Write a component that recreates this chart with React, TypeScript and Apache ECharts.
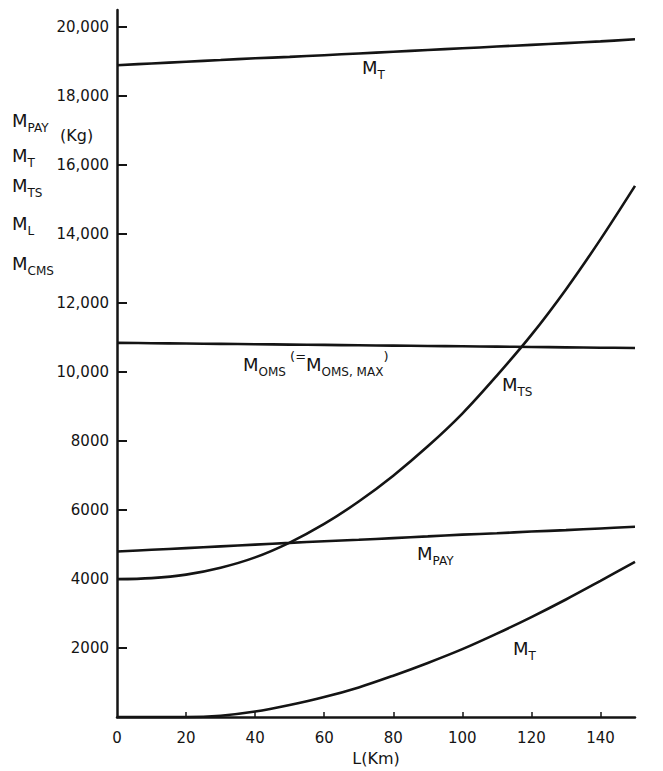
import React, { useEffect, useRef } from "react";
import * as echarts from "echarts";

// ---- data ----
const distanceKm = [0, 10, 20, 30, 40, 50, 60, 70, 80, 90, 100, 110, 120, 130, 140, 150];
const massTotalUpper = [18900, 18950, 19000, 19050, 19100, 19140, 19190, 19240, 19290, 19340, 19390, 19440, 19490, 19540, 19590, 19650];
const massOms = [10850, 10840, 10830, 10820, 10810, 10800, 10790, 10780, 10770, 10760, 10750, 10740, 10730, 10720, 10710, 10700];
const massTs = [4000, 4030, 4130, 4330, 4630, 5060, 5600, 6250, 7000, 7850, 8800, 9900, 11080, 12400, 13850, 15400];
const massPay = [4800, 4850, 4900, 4950, 5000, 5050, 5100, 5140, 5190, 5240, 5290, 5330, 5380, 5420, 5470, 5520];
const massTotalLower = [0, 0, 0, 40, 160, 350, 580, 860, 1200, 1570, 1970, 2420, 2900, 3410, 3950, 4500];

const xTickValues = [20, 40, 60, 80, 100, 120, 140];
const xLabelValues = [0, 20, 40, 60, 80, 100, 120, 140];
const yTickValues = [2000, 4000, 6000, 8000, 10000, 12000, 14000, 16000, 18000, 20000];

const FONT = "DejaVu Sans";
const INK = "#141414";

function pairs(values: number[]) {
  return distanceKm.map((d, i) => [d, values[i]]);
}

function fmtY(v: number) {
  if (!yTickValues.includes(v)) return "";
  return v >= 10000 ? v.toLocaleString("en-US") : String(v);
}

const rich = {
  m: { fontFamily: FONT, fontSize: 18, color: INK, lineHeight: 20, verticalAlign: "middle" },
  s: { fontFamily: FONT, fontSize: 12, color: INK, lineHeight: 28, verticalAlign: "bottom" },
  p: { fontFamily: FONT, fontSize: 13, color: INK, lineHeight: 24, verticalAlign: "top" },
};

function label(left: number, top: number, text: string) {
  return {
    type: "text",
    left,
    top,
    style: { text, rich, fill: INK, font: `18px ${FONT}` },
  };
}

function lineSeries(name: string, values: number[]) {
  return {
    name,
    type: "line",
    data: pairs(values),
    smooth: 0.35,
    showSymbol: false,
    symbol: "none",
    lineStyle: { color: INK, width: 2.6 },
    z: 3,
  };
}

export default function App() {
  const ref = useRef<HTMLDivElement>(null);

  useEffect(() => {
    document.body.style.margin = "0";
    const chart = echarts.init(ref.current!, null, { renderer: "svg" });
    chart.setOption({
      animation: false,
      backgroundColor: "#ffffff",
      grid: { left: 117, right: 28, top: 10, bottom: 52, containLabel: false },
      xAxis: {
        type: "value",
        min: 0,
        max: 150,
        interval: 20,
        name: "L(Km)",
        nameLocation: "middle",
        nameGap: 29,
        nameTextStyle: { fontFamily: FONT, fontSize: 16, color: INK },
        axisLine: { show: true, lineStyle: { color: INK, width: 2.5 } },
        axisTick: { show: true, inside: true, length: 5, customValues: xTickValues, lineStyle: { color: INK, width: 1.5 } },
        axisLabel: {
          customValues: xLabelValues,
          formatter: (v: number) => (xLabelValues.includes(v) ? String(v) : ""),
          fontFamily: FONT,
          fontSize: 15,
          color: INK,
          margin: 13,
        },
        splitLine: { show: false },
      },
      yAxis: {
        type: "value",
        min: 0,
        max: 20500,
        interval: 2000,
        axisLine: { show: true, lineStyle: { color: INK, width: 2.5 } },
        axisTick: { show: true, inside: true, length: 10, customValues: yTickValues, lineStyle: { color: INK, width: 2 } },
        axisLabel: {
          customValues: yTickValues,
          formatter: fmtY,
          fontFamily: FONT,
          fontSize: 15,
          color: INK,
          margin: 8,
        },
        splitLine: { show: false },
      },
      series: [
        lineSeries("M_T upper", massTotalUpper),
        lineSeries("M_OMS", massOms),
        lineSeries("M_TS", massTs),
        lineSeries("M_PAY", massPay),
        lineSeries("M_T lower", massTotalLower),
      ],
      graphic: [
        label(12, 111, "{m|M}{s|PAY}"),
        { type: "text", left: 60, top: 127, style: { text: "(Kg)", fill: INK, font: `16px ${FONT}` } },
        label(12, 146, "{m|M}{s|T}"),
        label(12, 176, "{m|M}{s|TS}"),
        label(12, 214, "{m|M}{s|L}"),
        label(12, 254, "{m|M}{s|CMS}"),
        label(362, 58, "{m|M}{s|T}"),
        label(243, 350, "{m|M}{s|OMS}{p| (=}{m|M}{s|OMS, MAX}{p|)}"),
        label(502, 375, "{m|M}{s|TS}"),
        label(417, 544, "{m|M}{s|PAY}"),
        label(513, 639, "{m|M}{s|T}"),
      ],
    });
    return () => chart.dispose();
  }, []);

  return (
    <div
      ref={ref}
      style={{ position: "fixed", left: 0, top: 0, width: 663, height: 771, background: "#fff" }}
    />
  );
}
